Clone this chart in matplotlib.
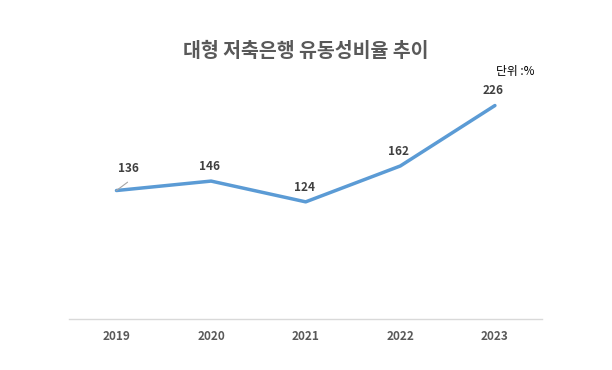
import matplotlib
matplotlib.use('Agg')
import matplotlib.pyplot as plt

plt.rcParams['font.family'] = ['Noto Sans CJK KR', 'DejaVu Sans']

years = ['2019', '2020', '2021', '2022', '2023']
ratio = [136, 146, 124, 162, 226]

fig = plt.figure(figsize=(6.12, 3.70), dpi=100)
ax = fig.add_axes([0.113, 0.138, 0.773, 0.638])

x = list(range(len(years)))
ax.plot(x, ratio, color='#5B9BD5', linewidth=2.5, solid_capstyle='round')

# data labels
for i, v in enumerate(ratio):
    if i == 0:
        # label moved off the point, with a short leader line
        ax.annotate('', xy=(i, v), xytext=(8, 6), textcoords='offset points',
                    arrowprops=dict(arrowstyle='-', color='#A6A6A6', lw=0.8,
                                    shrinkA=0, shrinkB=0))
        ax.annotate(str(v), xy=(i, v), xytext=(8.5, 11), textcoords='offset points',
                    ha='center', va='bottom', fontsize=8.5, fontweight='bold', color='#404040')
    else:
        ax.annotate(str(v), xy=(i, v), xytext=(-1, 6), textcoords='offset points',
                    ha='center', va='bottom', fontsize=8.5, fontweight='bold', color='#404040')

ax.set_xlim(-0.5, len(years) - 0.5)
ax.set_ylim(0, 250)
ax.set_xticks(x)
ax.set_xticklabels(years, fontsize=8.5, fontweight='bold', color='#595959')
ax.tick_params(axis='x', length=0, pad=8)
ax.set_yticks([])
for s in ['top', 'right', 'left']:
    ax.spines[s].set_visible(False)
ax.spines['bottom'].set_color('#D9D9D9')
ax.spines['bottom'].set_linewidth(1)

fig.text(0.5, 0.862, '대형 저축은행 유동성비율 추이', ha='center', va='center',
         fontsize=14, fontweight='bold', color='#595959')
fig.text(0.842, 0.808, '단위 :%', ha='center', va='center', fontsize=8.5, color='black')

fig.savefig('out.png', dpi=100)
